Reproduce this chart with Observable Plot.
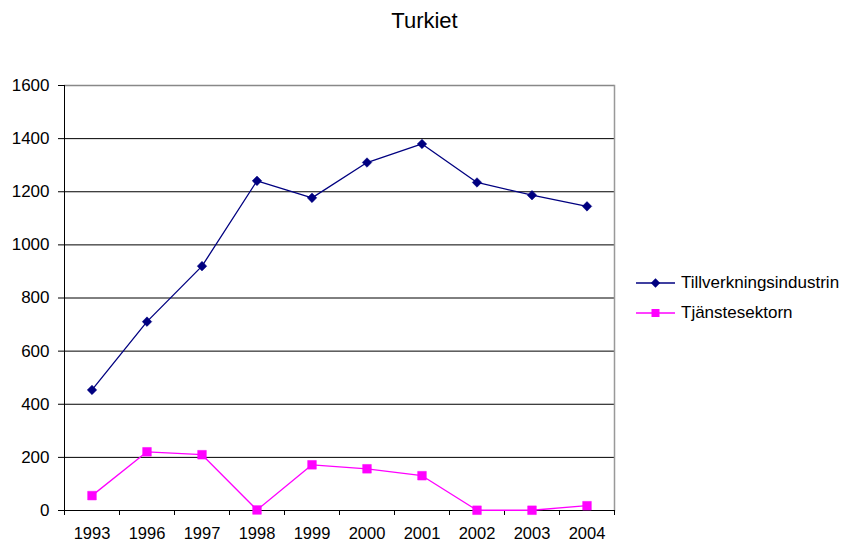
<!DOCTYPE html>
<html>
<head>
<meta charset="utf-8">
<script src="https://cdn.jsdelivr.net/npm/d3@7"></script>
<script src="https://cdn.jsdelivr.net/npm/@observablehq/plot@0.6"></script>
<style>
  html, body { margin: 0; padding: 0; background: #fff; }
  #wrap { position: relative; width: 847px; height: 545px; font-family: "Liberation Sans", Arial, sans-serif; }
  #title { position: absolute; left: 0; width: 849px; top: 8px; text-align: center; font-size: 22px; color: #000; }
  #legend { position: absolute; left: 636px; top: 268px; font-size: 17px; color: #000; }
  .item { display: flex; align-items: center; height: 30px; }
  .item svg { margin-right: 5px; }
</style>
</head>
<body>
<div id="wrap">
  <div id="title">Turkiet</div>
  <div id="legend"></div>
</div>
<script>
const years = ["1993", "1996", "1997", "1998", "1999", "2000", "2001", "2002", "2003", "2004"];
const tillverkning = [454, 711, 920, 1241, 1177, 1310, 1380, 1235, 1187, 1145];
const tjanste = [56, 221, 210, 2, 172, 157, 131, 1, 1, 18];
const yTicks = [0, 200, 400, 600, 800, 1000, 1200, 1400, 1600];
const seriesNames = ["Tillverkningsindustrin", "Tjänstesektorn"];
const seriesColors = ["#000080", "#FF00FF"];

const rowsA = years.map((y, i) => ({year: y, value: tillverkning[i], series: seriesNames[0]}));
const rowsB = years.map((y, i) => ({year: y, value: tjanste[i], series: seriesNames[1]}));

// tick marks at band boundaries (Excel-style category axis)
function bandTicks(index, scales, values, dims) {
  const g = d3.create("svg:g").attr("stroke", "#000").attr("stroke-width", 1);
  const x = scales.x, bw = x.bandwidth();
  const y0 = dims.height - dims.marginBottom;
  const edges = years.map(d => x(d)).concat([x(years[years.length - 1]) + bw]);
  edges.forEach(e => {
    const px = Math.round(e) + 0.5;
    g.append("line").attr("x1", px).attr("x2", px).attr("y1", y0).attr("y2", y0 + 5);
  });
  return g.node();
}

const chart = Plot.plot({
  width: 847,
  height: 545,
  marginLeft: 64,
  marginRight: 233,
  marginTop: 85,
  marginBottom: 35,
  style: {fontFamily: "'Liberation Sans', Arial, sans-serif", fontSize: "17px", color: "#000", background: "transparent", overflow: "visible"},
  x: {type: "band", domain: years, padding: 0, label: null},
  y: {domain: [0, 1600], label: null},
  marks: [
    Plot.ruleY(yTicks.slice(0, -1), {stroke: "#000", strokeWidth: 1}),
    Plot.ruleY([yTicks[yTicks.length - 1]], {stroke: "#888", strokeWidth: 1.5}),
    Plot.frame({anchor: "right", stroke: "#999", strokeWidth: 1.5}),
    Plot.axisY({ticks: yTicks, tickSize: 6, tickPadding: 9, tickFormat: d => String(d), fontSize: 17, stroke: "#000"}),
    Plot.axisX({tickSize: 0, tickPadding: 17, fontSize: 16.5}),
    Plot.frame({anchor: "left", stroke: "#000"}),
    Plot.frame({anchor: "bottom", stroke: "#000"}),
    bandTicks,
    Plot.line(rowsA, {x: "year", y: "value", stroke: seriesColors[0], strokeWidth: 1.3}),
    Plot.line(rowsB, {x: "year", y: "value", stroke: seriesColors[1], strokeWidth: 1.3}),
    Plot.dot(rowsA, {x: "year", y: "value", symbol: "diamond2", fill: seriesColors[0], stroke: seriesColors[0], r: 4.3, strokeWidth: 0.5}),
    Plot.dot(rowsB, {x: "year", y: "value", symbol: "square", fill: seriesColors[1], stroke: seriesColors[1], r: 4.9, strokeWidth: 0.5})
  ]
});
chart.style.position = "absolute";
chart.style.left = "0px";
chart.style.top = "0px";
document.getElementById("wrap").appendChild(chart);

// legend
const legend = document.getElementById("legend");
const shapes = [d3.symbolDiamond2, d3.symbolSquare];
const sizes = [56, 64];
seriesNames.forEach((name, i) => {
  const item = document.createElement("div");
  item.className = "item";
  const sym = d3.create("svg").attr("width", 40).attr("height", 12);
  sym.append("line").attr("x1", 0).attr("x2", 39).attr("y1", 6).attr("y2", 6)
    .attr("stroke", seriesColors[i]).attr("stroke-width", 1.3);
  sym.append("path").attr("transform", "translate(19.5,6)")
    .attr("d", d3.symbol(shapes[i], sizes[i])())
    .attr("fill", seriesColors[i]);
  item.appendChild(sym.node());
  const label = document.createElement("span");
  label.textContent = name;
  item.appendChild(label);
  legend.appendChild(item);
});
</script>
</body>
</html>
